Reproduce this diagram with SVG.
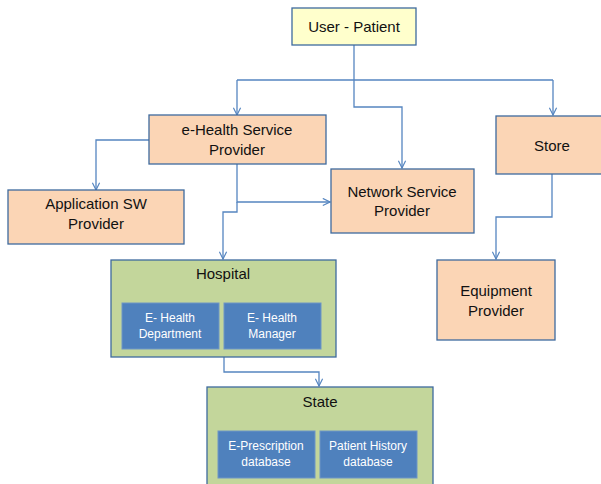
<svg xmlns="http://www.w3.org/2000/svg" width="601" height="484" viewBox="0 0 601 484">
<style>
text{font-family:"Liberation Sans",Arial,sans-serif;text-anchor:middle;fill:#111111}
.lg{font-size:15px}
.sm{font-size:12px;fill:#ffffff}
.peach{fill:#FBD5B5;stroke:#3E6A9E;stroke-width:1.3}
.yellow{fill:#FFFFCC;stroke:#3E6A9E;stroke-width:1.3}
.green{fill:#C3D69B;stroke:#3E6A9E;stroke-width:1.3}
.blue{fill:#4F81BD;stroke:#6F95C6;stroke-width:1}
.conn{fill:none;stroke:#5585C0;stroke-width:1.3}
</style>
<defs>
<marker id="arr" viewBox="0 0 10 10" refX="9" refY="5" markerWidth="9" markerHeight="9" markerUnits="userSpaceOnUse" orient="auto">
<path d="M1,1 L9,5 L1,9" fill="none" stroke="#5585C0" stroke-width="1.3"/>
</marker>
</defs>
<rect width="601" height="484" fill="#ffffff"/>
<g id="connectors">
<path class="conn" d="M354,45 V80"/>
<path class="conn" d="M237,80 H553"/>
<path class="conn" d="M237,80 V115" marker-end="url(#arr)"/>
<path class="conn" d="M553,80 V115" marker-end="url(#arr)"/>
<path class="conn" d="M354,80 V107 H402 V168" marker-end="url(#arr)"/>
<path class="conn" d="M149,140 H96 V190" marker-end="url(#arr)"/>
<path class="conn" d="M237,164 V202 H330" marker-end="url(#arr)"/>
<path class="conn" d="M237,202 V212 H223 V259" marker-end="url(#arr)"/>
<path class="conn" d="M552,174 V217 H496 V259" marker-end="url(#arr)"/>
<path class="conn" d="M224,357 V372 H319 V386" marker-end="url(#arr)"/>
</g>
<g id="user-patient">
<rect class="yellow" x="292" y="8" width="124" height="37"/>
<text class="lg" x="354" y="32">User - Patient</text>
</g>
<g id="ehealth-service-provider">
<rect class="peach" x="149" y="115" width="177" height="49"/>
<text class="lg" x="237" y="135">e-Health Service</text>
<text class="lg" x="237" y="155">Provider</text>
</g>
<g id="store">
<rect class="peach" x="496" y="116" width="114" height="58"/>
<text class="lg" x="552" y="151">Store</text>
</g>
<g id="network-service-provider">
<rect class="peach" x="331" y="169" width="143" height="64"/>
<text class="lg" x="402" y="197">Network Service</text>
<text class="lg" x="402" y="216">Provider</text>
</g>
<g id="application-sw-provider">
<rect class="peach" x="8" y="190" width="176" height="54"/>
<text class="lg" x="96" y="209">Application SW</text>
<text class="lg" x="96" y="229">Provider</text>
</g>
<g id="equipment-provider">
<rect class="peach" x="437" y="260" width="118" height="80"/>
<text class="lg" x="496" y="296">Equipment</text>
<text class="lg" x="496" y="316">Provider</text>
</g>
<g id="hospital">
<rect class="green" x="111" y="260" width="225" height="97"/>
<text class="lg" x="223" y="279">Hospital</text>
<g id="ehealth-department">
<rect class="blue" x="122" y="303" width="97" height="46"/>
<text class="sm" x="170" y="322">E- Health</text>
<text class="sm" x="170" y="338">Department</text>
</g>
<g id="ehealth-manager">
<rect class="blue" x="224" y="303" width="97" height="46"/>
<text class="sm" x="272" y="322">E- Health</text>
<text class="sm" x="272" y="338">Manager</text>
</g>
</g>
<g id="state">
<rect class="green" x="207" y="387" width="226" height="105"/>
<text class="lg" x="320" y="407">State</text>
<g id="e-prescription-database">
<rect class="blue" x="218" y="431" width="97" height="47"/>
<text class="sm" x="266" y="450">E-Prescription</text>
<text class="sm" x="266" y="466">database</text>
</g>
<g id="patient-history-database">
<rect class="blue" x="320" y="431" width="97" height="47"/>
<text class="sm" x="368" y="450">Patient History</text>
<text class="sm" x="368" y="466">database</text>
</g>
</g>
</svg>
